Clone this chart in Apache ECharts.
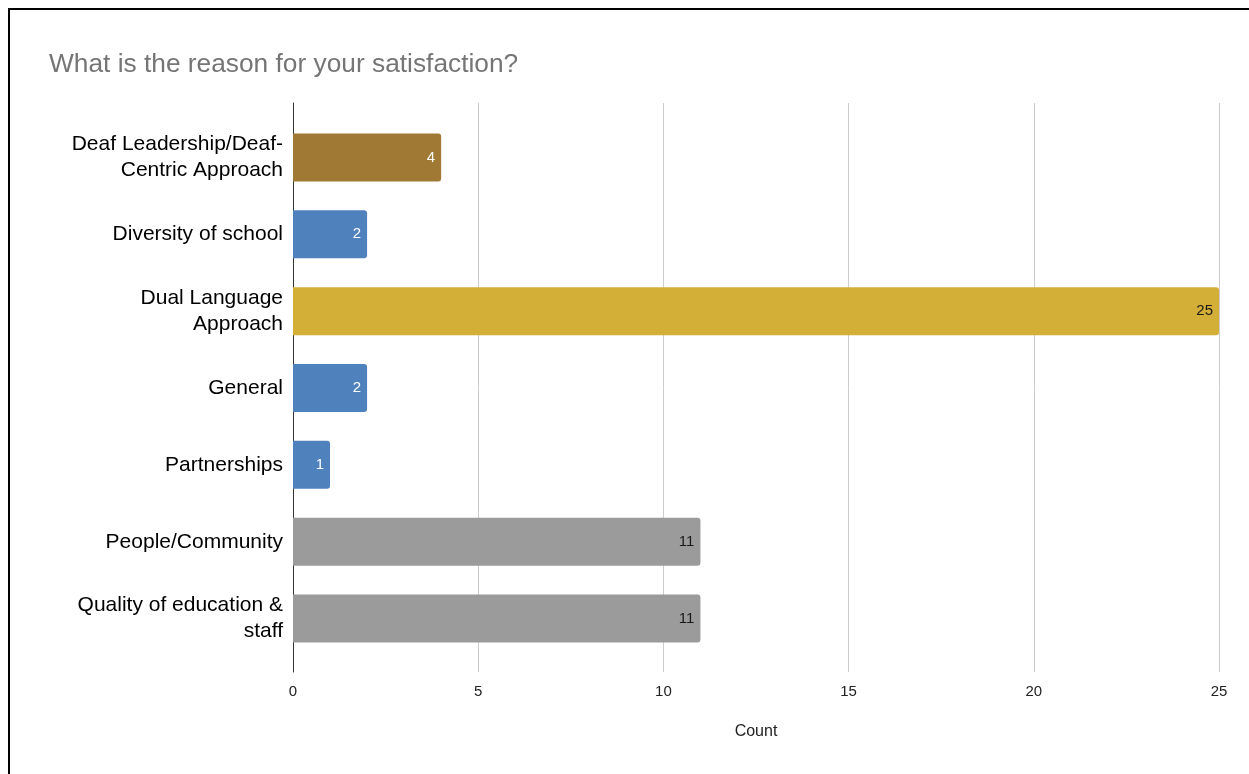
<!DOCTYPE html>
<html>
<head>
<meta charset="utf-8">
<script src="https://cdn.jsdelivr.net/npm/echarts@6/dist/echarts.min.js"></script>
<style>
  html, body { margin: 0; padding: 0; background: #fff; }
  #wrap { position: relative; width: 1249px; height: 774px; overflow: hidden; }
  #frame { position: absolute; left: 8px; top: 8px; width: 1400px; height: 900px;
           border-left: 2px solid #000; border-top: 2px solid #000; box-sizing: border-box; }
  #chart { position: absolute; left: 0; top: 0; width: 1249px; height: 774px; }
</style>
</head>
<body>
<div id="wrap">
  <div id="frame"></div>
  <div id="chart"></div>
</div>
<script>
// Survey responses: reasons given for satisfaction
const categories = [
  'Deaf Leadership/Deaf-\nCentric Approach',
  'Diversity of school',
  'Dual Language\nApproach',
  'General',
  'Partnerships',
  'People/Community',
  'Quality of education &\nstaff'
];
const counts = [4, 2, 25, 2, 1, 11, 11];
const xTicks = [0, 5, 10, 15, 20, 25];

// Per-bar fill and label colours
const barColors = ['#A07A34', '#4F81BD', '#D4AF37', '#4F81BD', '#4F81BD', '#9B9B9B', '#9B9B9B'];
const labelColors = ['#ffffff', '#ffffff', '#1a1a1a', '#ffffff', '#ffffff', '#1a1a1a', '#1a1a1a'];

const FONT = 'Liberation Sans, Arial, sans-serif';
const chart = echarts.init(document.getElementById('chart'), null, { renderer: 'canvas' });

const xMin = xTicks[0];
const xMax = xTicks[xTicks.length - 1];
const xStep = xTicks[1] - xTicks[0];

chart.setOption({
  animation: false,
  backgroundColor: 'transparent',
  title: {
    text: 'What is the reason for your satisfaction?',
    left: 44,
    top: 47,
    textStyle: { fontFamily: FONT, fontSize: 26.3, fontWeight: 'normal', color: '#757575' }
  },
  grid: [
    // frame grid: gridlines, tick labels and the baseline
    { left: 293, right: 30, top: 103, bottom: 102 },
    // bar grid
    { left: 293, right: 30, top: 119, bottom: 117 }
  ],
  xAxis: [
    {
      gridIndex: 0, type: 'value', min: xMin, max: xMax, interval: xStep,
      axisLine: { show: false }, axisTick: { show: false },
      splitLine: { show: true, lineStyle: { color: '#cccccc', width: 1 } },
      axisLabel: { margin: 12, fontFamily: FONT, fontSize: 15, color: '#222' },
      name: 'Count', nameLocation: 'middle', nameGap: 52,
      nameTextStyle: { fontFamily: FONT, fontSize: 16, color: '#222' }
    },
    { gridIndex: 1, type: 'value', min: xMin, max: xMax, show: false }
  ],
  yAxis: [
    {
      gridIndex: 0, type: 'value', min: 0, max: 1,
      axisLine: { show: true, lineStyle: { color: '#333', width: 1 } },
      axisTick: { show: false }, axisLabel: { show: false }, splitLine: { show: false }
    },
    {
      gridIndex: 1, type: 'category', inverse: true, data: categories,
      axisLine: { show: false }, axisTick: { show: false },
      axisLabel: {
        margin: 10, align: 'right',
        fontFamily: FONT, fontSize: 21, lineHeight: 26, color: '#000'
      }
    }
  ],
  series: [{
    type: 'bar',
    xAxisIndex: 1,
    yAxisIndex: 1,
    barWidth: 48,
    data: counts.map((v, i) => ({
      value: v,
      itemStyle: { color: barColors[i], borderRadius: [0, 3, 3, 0] },
      label: { color: labelColors[i] }
    })),
    label: {
      show: true,
      position: 'insideRight',
      distance: 6,
      fontFamily: FONT,
      fontSize: 15
    }
  }]
});
</script>
</body>
</html>
